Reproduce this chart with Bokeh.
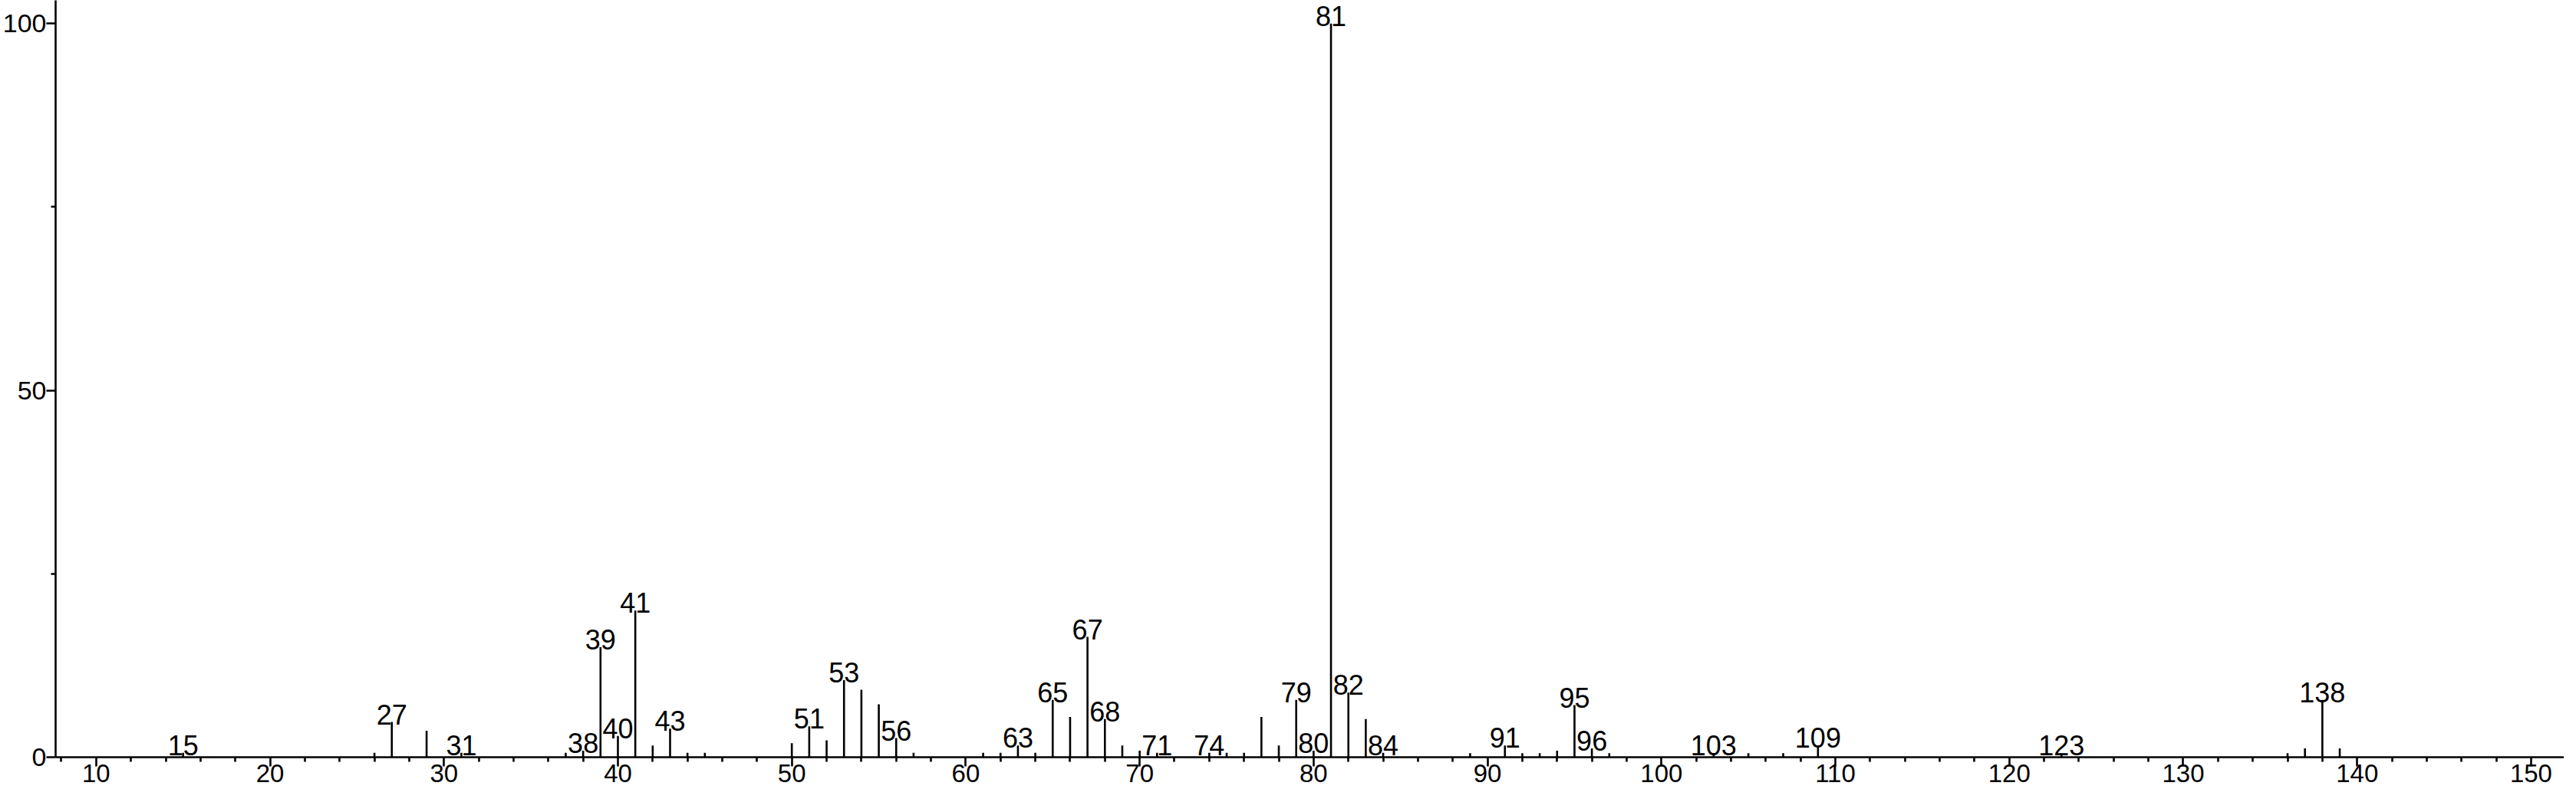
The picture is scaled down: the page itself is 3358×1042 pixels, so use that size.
from bokeh.plotting import figure
from bokeh.models import ColumnDataSource, FixedTicker, Range1d
from bokeh.core.properties import value
from bokeh.embed import file_html
from bokeh.resources import INLINE

# ---- data (m/z and relative intensity) ----
mz = [15, 26, 27, 29, 31, 37, 38, 39, 40, 41, 42, 43, 44, 45,
      50, 51, 52, 53, 54, 55, 56, 57, 61, 62, 63, 64, 65, 66, 67, 68, 69, 70, 71,
      74, 75, 76, 77, 78, 79, 80, 81, 82, 83, 84,
      89, 91, 92, 93, 94, 95, 96, 97, 103, 105, 107, 109,
      123, 136, 137, 138, 139]
intensity = [0.6, 0.6, 4.8, 3.6, 0.6, 0.6, 0.9, 15.0, 2.9, 20.0, 1.6, 3.9, 0.6, 0.6,
             1.9, 4.2, 2.3, 10.5, 9.2, 7.2, 2.6, 0.6, 0.6, 0.6, 1.6, 0.6, 7.8, 5.5, 16.4, 5.2, 1.6, 0.9, 0.6,
             0.6, 0.6, 0.6, 5.5, 1.6, 7.8, 0.9, 100.0, 8.8, 5.2, 0.6,
             0.55, 1.6, 0.55, 0.55, 0.9, 7.1, 1.2, 0.55, 0.55, 0.55, 0.55, 1.6,
             0.55, 0.55, 1.2, 7.8, 1.2]

labelled_mz = [15, 27, 31, 38, 39, 40, 41, 43, 51, 53, 56, 63, 65, 67, 68, 71, 74,
               79, 80, 81, 82, 84, 91, 95, 96, 103, 109, 123, 138]

x_major_ticks = [10, 20, 30, 40, 50, 60, 70, 80, 90, 100, 110, 120, 130, 140, 150]
x_minor_ticks = [v for v in range(8, 153, 2) if v % 10 != 0]
y_major_ticks = [0, 50, 100]
y_minor_ticks = [25, 75]

# ---- sources ----
src = ColumnDataSource(data=dict(mz=mz, intensity=intensity))
lookup = dict(zip(mz, intensity))
lab_src = ColumnDataSource(data=dict(
    mz=labelled_mz,
    intensity=[lookup[m] for m in labelled_mz],
    label=[str(m) for m in labelled_mz],
))

p = figure(width=3342, height=1026, output_backend="svg", toolbar_location=None,
           x_range=Range1d(7.67, 151.9), y_range=Range1d(0, 103.16),
           min_border_left=70, min_border_right=0, min_border_top=0, min_border_bottom=0)
p.outline_line_color = None
p.grid.visible = False
p.background_fill_color = "white"
p.border_fill_color = "white"

p.segment(x0="mz", y0=0, x1="mz", y1="intensity", source=src,
          line_color="black", line_width=2.6)
p.text(x="mz", y="intensity", text="label", source=lab_src,
       text_font=value("Liberation Sans"), text_font_size=value("36px"),
       text_color="black", text_align="center", text_baseline="alphabetic",
       y_offset=-10)

# x axis
xa = p.xaxis[0]
xa.ticker = FixedTicker(ticks=x_major_ticks, minor_ticks=x_minor_ticks)
xa.axis_line_width = 2.6
xa.axis_line_color = "black"
xa.major_tick_line_width = 2.6
xa.minor_tick_line_width = 2.6
xa.major_tick_line_color = "black"
xa.minor_tick_line_color = "black"
xa.major_tick_out = 12
xa.major_tick_in = 0
xa.minor_tick_out = 6
xa.minor_tick_in = 0
xa.major_label_text_font = "Liberation Sans"
xa.major_label_text_font_size = "33px"
xa.major_label_text_color = "black"
xa.major_label_standoff = -3
# tiny blank axis title only reserves a couple of px of space under the tick labels
xa.axis_label = " "
xa.axis_label_text_font_size = "1px"
xa.axis_label_standoff = 0

# y axis
ya = p.yaxis[0]
ya.ticker = FixedTicker(ticks=y_major_ticks, minor_ticks=y_minor_ticks)
ya.axis_line_width = 2.6
ya.axis_line_color = "black"
ya.major_tick_line_width = 2.6
ya.minor_tick_line_width = 2.6
ya.major_tick_line_color = "black"
ya.minor_tick_line_color = "black"
ya.major_tick_out = 12
ya.major_tick_in = 0
ya.minor_tick_out = 6
ya.minor_tick_in = 0
ya.major_label_text_font = "Liberation Sans"
ya.major_label_text_font_size = "34px"
ya.major_label_text_color = "black"
ya.major_label_standoff = 0

open("out.html", "w").write(file_html(p, INLINE))
